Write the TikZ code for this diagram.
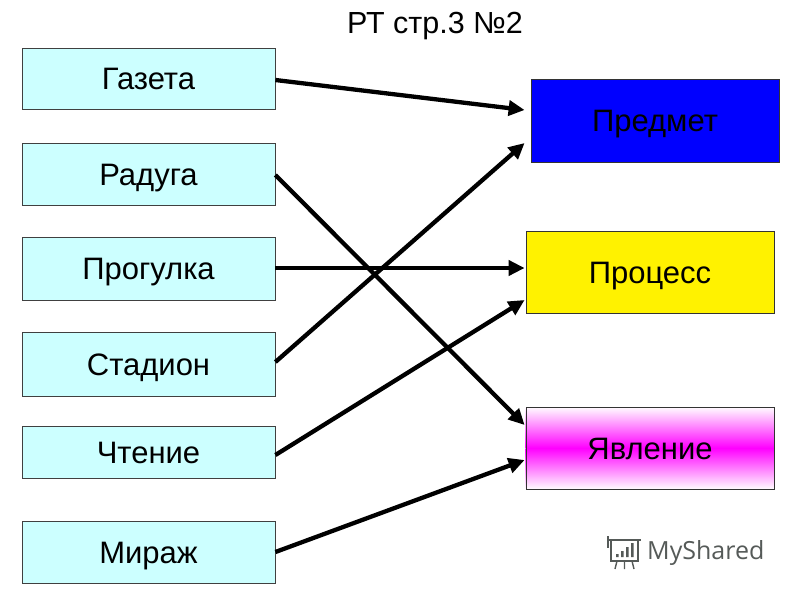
\documentclass[tikz,border=0pt]{standalone}
\usepackage{fontspec}
\setmainfont{Liberation Sans}
\newfontfamily\wmfont{Open Sans}
\usetikzlibrary{arrows.meta,backgrounds}
\definecolor{lcyan}{RGB}{204,255,255}
\definecolor{wmgray}{RGB}{85,90,88}
\definecolor{mgn}{RGB}{255,0,255}
\tikzset{
  capcenter/.style={text height=22.2pt, text depth=0pt},
  leftbox/.style={draw=black!75, line width=0.8pt, fill=lcyan, minimum width=253pt, inner sep=0pt, capcenter, font=\fontsize{31}{33}\selectfont},
  rightbox/.style={draw=black!80, line width=0.8pt, minimum width=248pt, minimum height=82pt, inner sep=0pt, capcenter, font=\fontsize{31}{33}\selectfont},
  link/.style={line width=4.3pt, -{Triangle[length=16pt,width=15pt]}}
}
\begin{document}
\begin{tikzpicture}[x=1pt,y=-1pt]
\useasboundingbox (0,0) rectangle (800,600);
\node[font=\fontsize{30.5}{32}\selectfont, text height=21.8pt, text depth=0pt, inner sep=0pt] (title) at (435,23) {РТ стр.3 №2};
% left boxes
\node[leftbox, minimum height=61pt] (gaz) at (148.5,78.5) {Газета};
\node[leftbox, minimum height=62pt] (rad) at (148.5,174) {Радуга};
\node[leftbox, minimum height=63pt] (prog) at (148.5,268.5) {Прогулка};
\node[leftbox, minimum height=64pt] (stad) at (148.5,364) {Стадион};
\node[leftbox, minimum height=52pt] (cht) at (148.5,452) {Чтение};
\node[leftbox, minimum height=62pt] (mir) at (148.5,552) {Мираж};
% right boxes
\node[rightbox, fill=blue, minimum width=248pt, minimum height=83pt] (pred) at (655,120.5) {Предмет};
\node[rightbox, fill=yellow] (proc) at (650,272) {Процесс};
\node[rightbox] (yavl) at (650,448) {Явление};
\begin{scope}[on background layer]
  \fill[white] (0,0) rectangle (800,600);
  \shade[top color=white, middle color=white!65!mgn, bottom color=mgn] (yavl.north west) rectangle (yavl.east);
  \shade[top color=mgn, middle color=white!65!mgn, bottom color=white] (yavl.west) rectangle (yavl.south east);
\end{scope}
% connectors
\draw[link] ([yshift=-1.5pt]gaz.east) -- ([xshift=-6pt,yshift=10.5pt]pred.west);
\draw[link] ([yshift=-1pt]rad.east) -- ([xshift=-1pt,yshift=23pt]yavl.west);
\draw[link] ([yshift=0.5pt]prog.east) -- ([xshift=-1pt,yshift=4pt]proc.west);
\draw[link] ([yshift=2pt]stad.east) -- ([xshift=-6pt,yshift=-22.5pt]pred.west);
\draw[link] ([yshift=-3pt]cht.east) -- ([xshift=-1pt,yshift=-28pt]proc.west);
\draw[link] (mir.east) -- ([xshift=-1pt,yshift=-12pt]yavl.west);
% watermark
\node[font=\wmfont\fontsize{25}{27}\selectfont, text=wmgray, anchor=west, inner sep=0pt] (wm) at (647,553) {MyShared};
\draw[wmgray, line width=1.4pt] (611,540) rectangle (638,561);
\draw[wmgray, line width=1.4pt] (608,540) -- (641,540);
\draw[wmgray, line width=1.4pt] (608,536) -- (608,548);
\draw[wmgray, line width=1.4pt] (617,561) -- (615,569) (624.5,561) -- (624.5,569) (632,561) -- (634,569);
\fill[wmgray] (616,554) rectangle (618.5,557) (621,551) rectangle (623.5,557) (626,547) rectangle (628.5,557) (631,543) rectangle (633.5,557);
\end{tikzpicture}
\end{document}
